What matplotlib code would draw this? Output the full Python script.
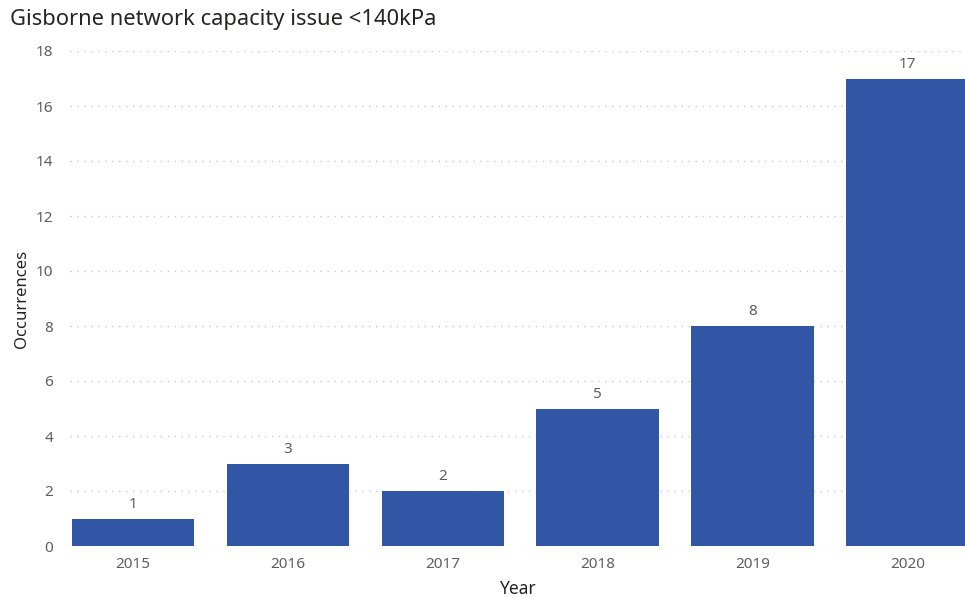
import matplotlib
matplotlib.use("Agg")
import matplotlib.pyplot as plt

years = ["2015", "2016", "2017", "2018", "2019", "2020"]
occurrences = [1, 3, 2, 5, 8, 17]

plt.rcParams['font.family'] = ['Noto Sans', 'DejaVu Sans']

fig = plt.figure(figsize=(9.65, 5.98), dpi=100)
W, H = 965, 598
ax = fig.add_axes([70 / W, 1 - 546 / H, (965 - 70) / W, (546 - 51) / H])

x = list(range(len(years)))
bars = ax.bar(x, occurrences, width=0.79, color="#3256A6", zorder=3)
for xi, v in zip(x, occurrences):
    ax.text(xi, v + 0.25, str(v), ha="center", va="bottom", fontsize=11, color="#605E5C")

ax.set_xlim(-0.405, 5.37)
ax.set_ylim(0, 18)
ax.set_yticks(range(0, 19, 2))
ax.set_xticks(x)
ax.set_xticklabels(years)
ax.tick_params(axis="both", length=0, labelsize=11, colors="#605E5C")
ax.tick_params(axis="y", pad=12)
ax.tick_params(axis="x", pad=8)
ax.yaxis.grid(True, linestyle=(0, (1, 4)), color="#C8C8C8", linewidth=1)
for s in ax.spines.values():
    s.set_visible(False)

ax.set_ylabel("Occurrences", fontsize=12, color="#252423", labelpad=4)
ax.set_xlabel("Year", fontsize=12.5, color="#252423", labelpad=6)
fig.text(10 / W, 1 - 20 / H, "Gisborne network capacity issue <140kPa", fontsize=15.8,
         color="#252423", va="center", ha="left")

fig.savefig("out.png", dpi=100)
